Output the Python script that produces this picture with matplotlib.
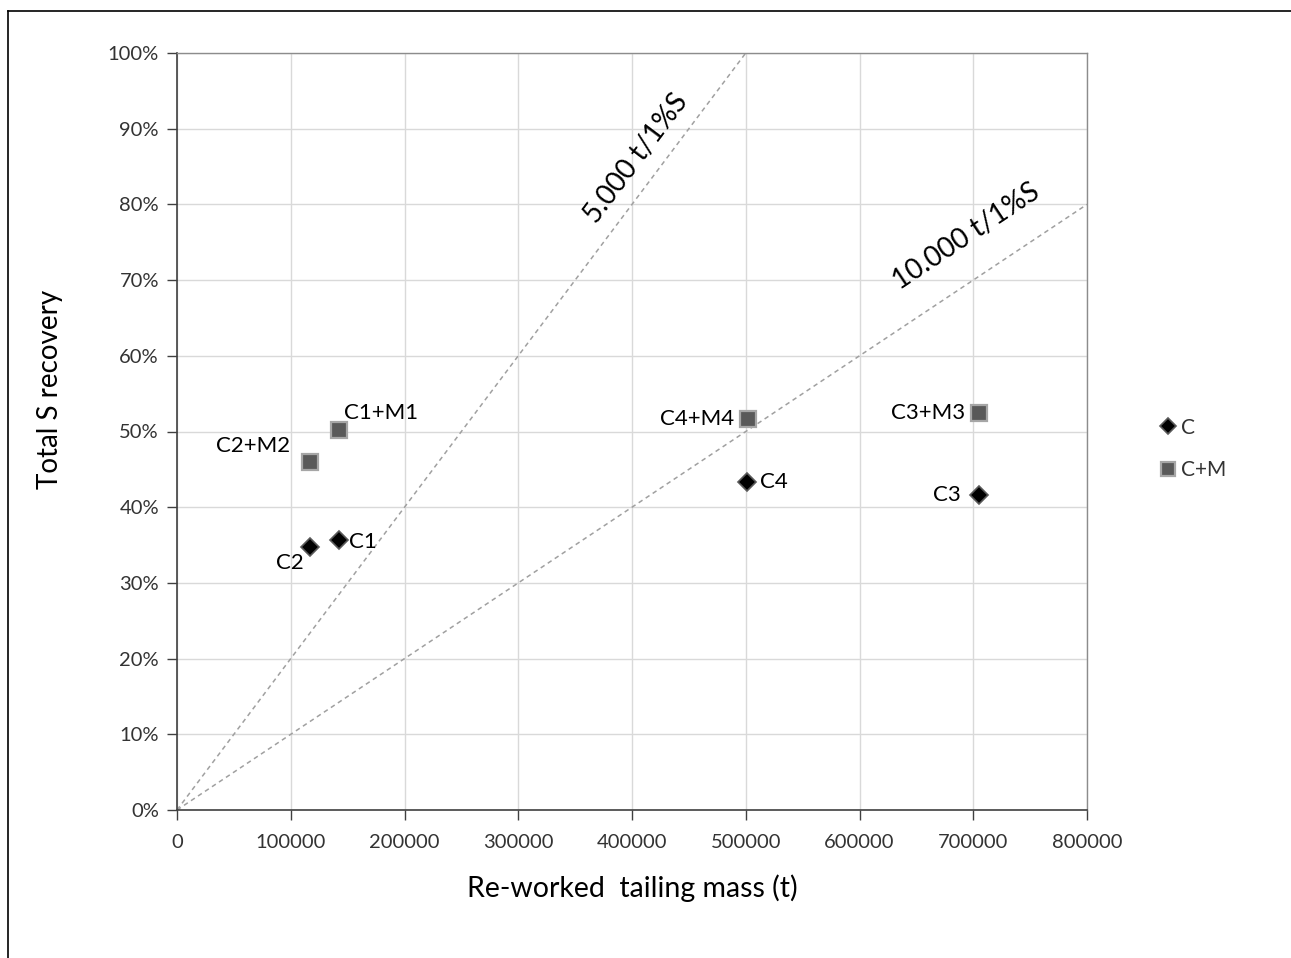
import numpy as np
import matplotlib
matplotlib.use("Agg")
import matplotlib.pyplot as plt
from matplotlib.ticker import PercentFormatter, MultipleLocator
from matplotlib.lines import Line2D

plt.rcParams['font.family'] = ['Lato', 'DejaVu Sans']

# recovery data (mass in t, recovery in %)
c_names = ['C1', 'C2', 'C3', 'C4']
c_mass = [142000, 117000, 705000, 501000]
c_rec = [35.7, 34.8, 41.6, 43.3]

cm_names = ['C1+M1', 'C2+M2', 'C3+M3', 'C4+M4']
cm_mass = [142000, 117000, 705000, 502000]
cm_rec = [50.2, 46.0, 52.4, 51.6]

# tonnes of tailing per 1 % of S recovered
ref_rates = [5000, 10000]
ref_labels = ['5.000 t/1%S', '10.000 t/1%S']

W, H = 1291, 958
fig = plt.figure(figsize=(W / 100, H / 100), dpi=100)
ax = fig.add_axes([177 / W, 1 - 810 / H, 910 / W, 757 / H])

# outer chart border (left and top edges visible)
fig.add_artist(Line2D([8 / W, 8 / W], [0, 1 - 11 / H], color='black', lw=1.2, transform=fig.transFigure))
fig.add_artist(Line2D([8 / W, 1], [1 - 11 / H, 1 - 11 / H], color='black', lw=1.2, transform=fig.transFigure))

ax.set_xlim(0, 800000)
ax.set_ylim(0, 100)
ax.xaxis.set_major_locator(MultipleLocator(100000))
ax.yaxis.set_major_locator(MultipleLocator(10))
ax.yaxis.set_major_formatter(PercentFormatter(100, decimals=0))
ax.xaxis.set_major_formatter(plt.FuncFormatter(lambda v, p: f'{int(v)}'))
ax.grid(True, color='#d9d9d9', lw=1.0)
ax.set_axisbelow(True)
for side in ['left', 'bottom']:
    ax.spines[side].set_color('#404040')
    ax.spines[side].set_linewidth(1.2)
for side in ['top', 'right']:
    ax.spines[side].set_color('#8c8c8c')
    ax.spines[side].set_linewidth(1.0)
ax.tick_params(axis='both', direction='out', length=7, width=1.0, color='#404040',
               labelsize=14.5, labelcolor='#333333', pad=6)
ax.tick_params(axis='x', pad=10)

# reference lines
xs = np.array([0, 800000])
for rate in ref_rates:
    ax.plot(xs, xs / rate, ls=(0, (3, 2.5)), color='#a0a0a0', lw=1.1, zorder=2)

fig.canvas.draw()


def screen_angle(rate):
    p0 = ax.transData.transform((0, 0))
    p1 = ax.transData.transform((400000, 400000 / rate))
    return np.degrees(np.arctan2(p1[1] - p0[1], p1[0] - p0[0]))


ax.text(403500, 86.1, ref_labels[0], rotation=screen_angle(ref_rates[0]),
        rotation_mode='anchor', ha='center', va='center', fontsize=20, color='black')
ax.text(693600, 75.8, ref_labels[1], rotation=screen_angle(ref_rates[1]),
        rotation_mode='anchor', ha='center', va='center', fontsize=20, color='black')

ax.plot(c_mass, c_rec, ls='none', marker='D', ms=9, mfc='black', mec='#595959', mew=1.2,
        label='C', zorder=4, clip_on=False)
ax.plot(cm_mass, cm_rec, ls='none', marker='s', ms=12, mfc='#595959', mec='#a6a6a6', mew=1.6,
        label='C+M', zorder=4, clip_on=False)

c_offsets = {'C1': (10, -2, 'left'), 'C2': (-6, -16, 'right'),
             'C3': (-18, 0, 'right'), 'C4': (13, 0, 'left')}
cm_offsets = {'C1+M1': (5, 17, 'left'), 'C2+M2': (-20, 16, 'right'),
              'C3+M3': (-14, 0, 'right'), 'C4+M4': (-14, 0, 'right')}

for name, x, y in zip(c_names, c_mass, c_rec):
    dx, dy, ha = c_offsets[name]
    ax.annotate(name, (x, y), xytext=(dx, dy), textcoords='offset pixels',
                ha=ha, va='center', fontsize=16, color='black')
for name, x, y in zip(cm_names, cm_mass, cm_rec):
    dx, dy, ha = cm_offsets[name]
    ax.annotate(name, (x, y), xytext=(dx, dy), textcoords='offset pixels',
                ha=ha, va='center', fontsize=16, color='black')

ax.set_xlabel('Re-worked  tailing mass (t)', fontsize=20.5, color='black')
ax.xaxis.set_label_coords(0.5, -0.103)
ax.xaxis.label.set_va('center')
ax.set_ylabel('Total S recovery', fontsize=20, color='black')
ax.yaxis.set_label_coords(-0.1396, 0.555)
ax.yaxis.label.set_va('center')

leg = ax.legend(loc='center left', bbox_to_anchor=(1143 / W, 1 - 449 / H),
                bbox_transform=fig.transFigure, frameon=False, fontsize=15,
                handlelength=0.6, handletextpad=0.3, labelspacing=1.1, markerscale=0.85)
for t in leg.get_texts():
    t.set_color('#333333')

fig.savefig('out.png', dpi=100)
